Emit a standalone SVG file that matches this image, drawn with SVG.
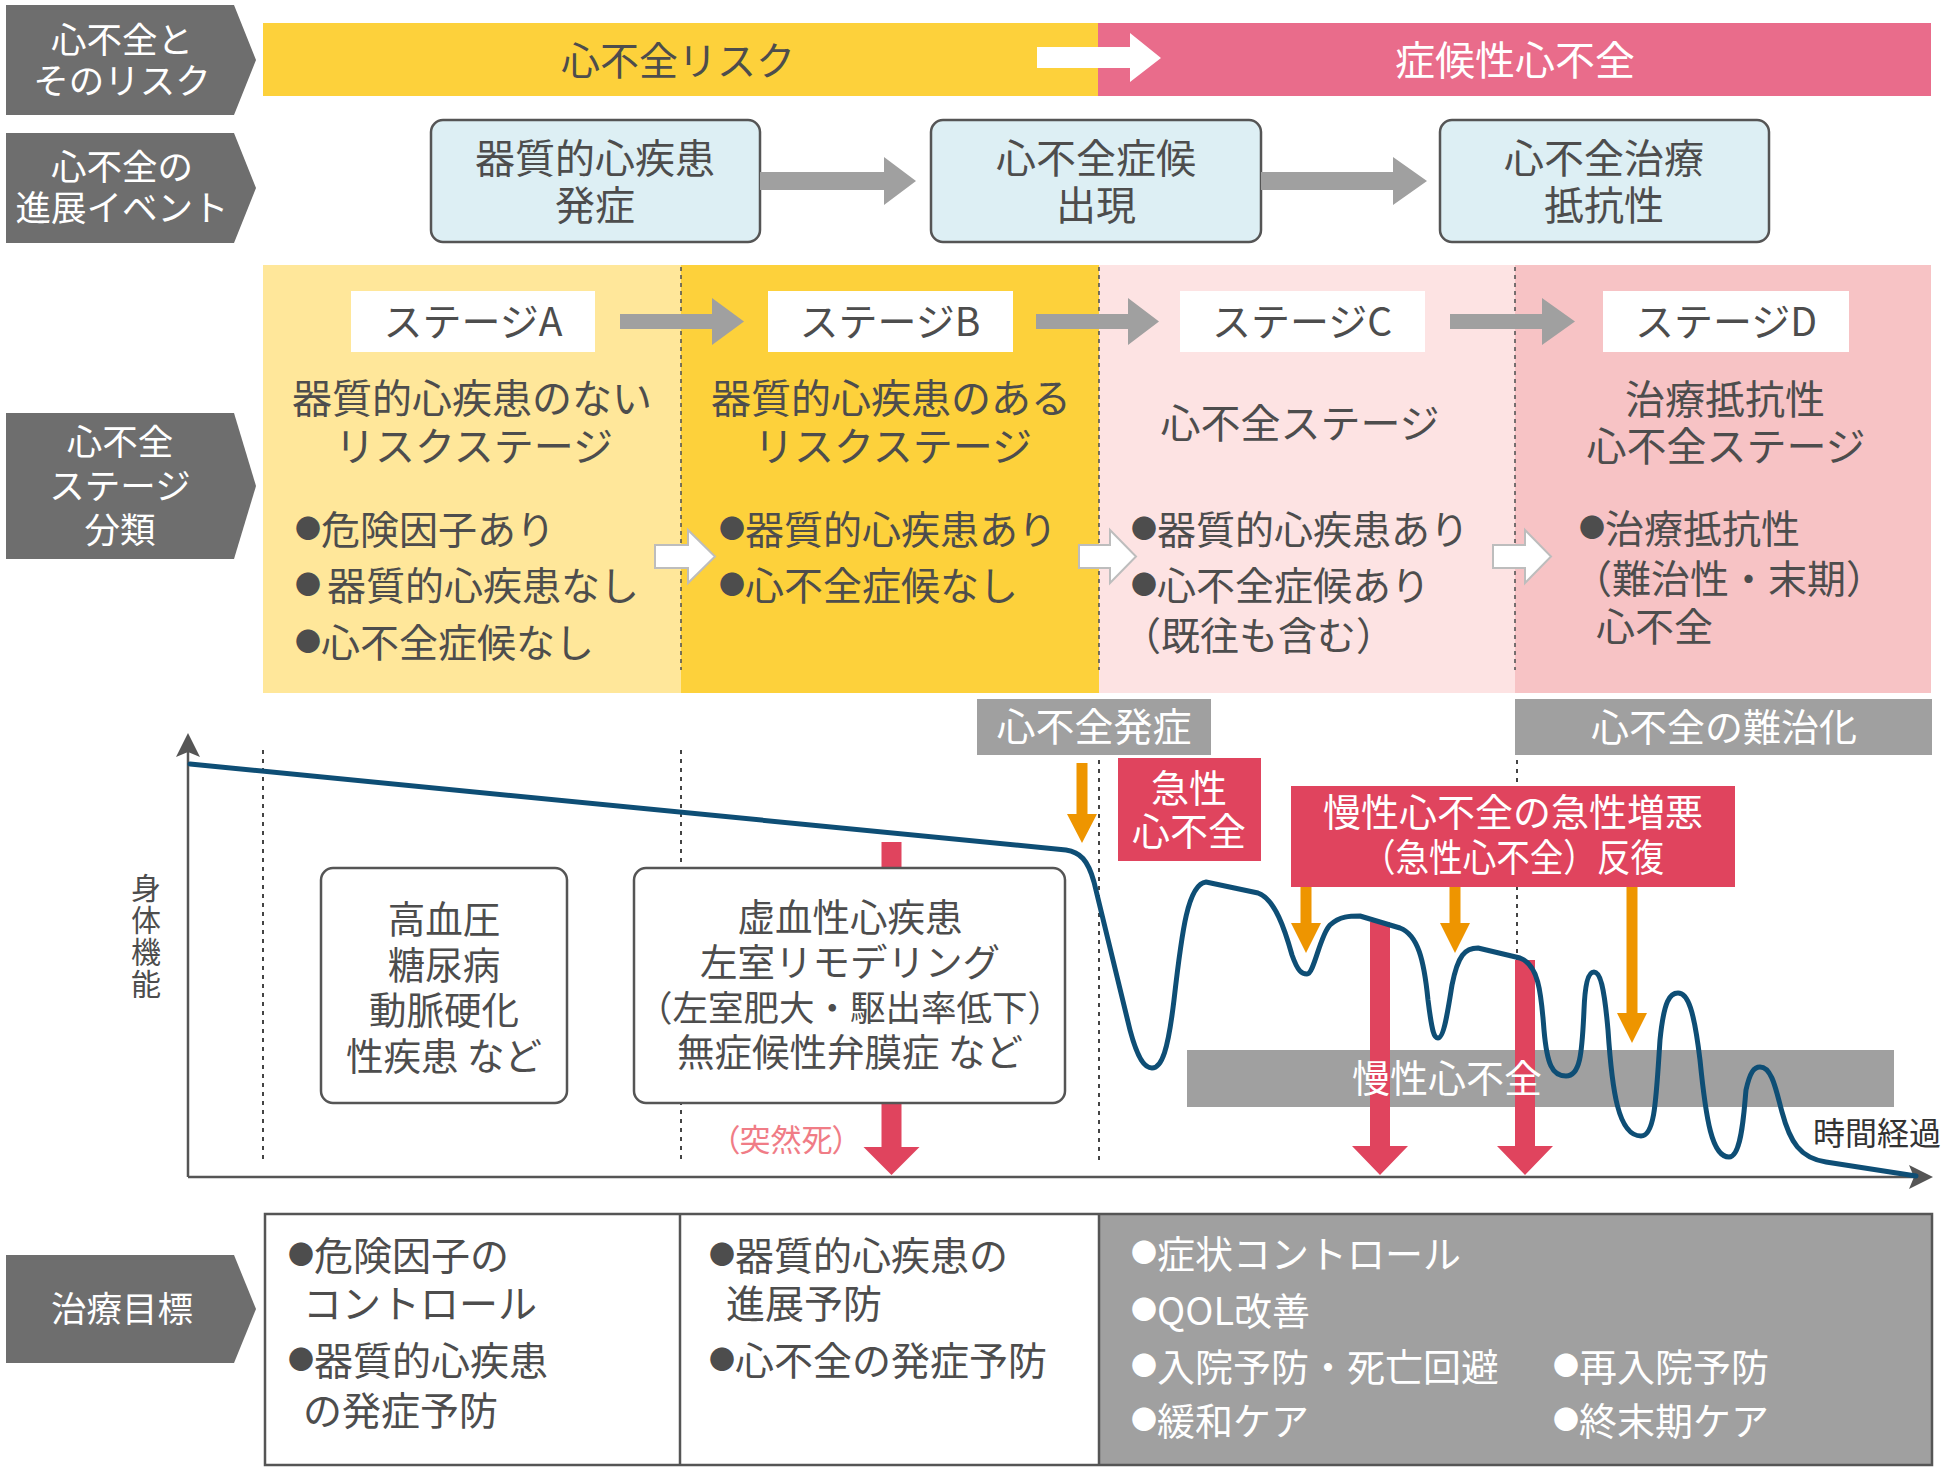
<svg xmlns="http://www.w3.org/2000/svg" width="1952" height="1472" viewBox="0 0 1952 1472">
<defs>
<style>
text{font-family:"Noto Sans CJK JP","Noto Sans",sans-serif;}
.lbl{fill:#6e6e6e;}
.lt{fill:#fff;font-size:35.5px;text-anchor:middle;}
.t{fill:#4d4d4d;font-size:38px;}
.s{font-size:39px;}
.e{font-size:40px;}
.g{font-size:37.5px;}
.c{text-anchor:middle;}
.w{fill:#fff;}
.b{font-size:26px;}
.stg{fill:#fff;}
.garrow{fill:#a0a0a0;}
.warrow{fill:#fff;stroke:#bdbdbd;stroke-width:2;}
.evbox{fill:#ddeff4;stroke:#555;stroke-width:2.5;}
.dot{stroke:#444;stroke-width:2;stroke-dasharray:4 5;fill:none;}
.dotp{stroke:#555;stroke-width:1.6;stroke-dasharray:4 4;fill:none;}
.gbox{fill:#a0a0a0;}
.red{fill:#e0445e;}
.org{fill:#ee9500;}
.wbox{fill:#fff;stroke:#555;stroke-width:2.5;}
.axis{stroke:#555;stroke-width:2.5;fill:none;}
</style>
</defs>
<rect width="1952" height="1472" fill="#fff"/>

<!-- Left labels -->
<g id="label-risk">
<polygon class="lbl" points="6,5 234,5 256,60 234,115 6,115"/>
<text class="lt"><tspan x="122" y="53">心不全と</tspan><tspan x="122" y="94">そのリスク</tspan></text>
</g>
<g id="label-event">
<polygon class="lbl" points="6,133 234,133 256,188 234,243 6,243"/>
<text class="lt"><tspan x="122" y="180">心不全の</tspan><tspan x="122" y="221">進展イベント</tspan></text>
</g>
<g id="label-stage">
<polygon class="lbl" points="6,413 234,413 256,486 234,559 6,559"/>
<text class="lt"><tspan x="120" y="455">心不全</tspan><tspan x="120" y="499">ステージ</tspan><tspan x="120" y="543">分類</tspan></text>
</g>
<g id="label-goal">
<polygon class="lbl" points="6,1255 234,1255 256,1309 234,1363 6,1363"/>
<text class="lt" x="122" y="1322">治療目標</text>
</g>

<!-- Row 1 bars -->
<g id="bar-risk">
<rect x="263" y="23" width="836" height="73" fill="#fdd13b"/>
<text class="t c" x="678" y="75" style="font-size:39px">心不全リスク</text>
</g>
<g id="bar-symptomatic">
<rect x="1098" y="23" width="833" height="73" fill="#e96c8b"/>
<text class="t c w" x="1515" y="75" style="font-size:40px">症候性心不全</text>
</g>

<!-- Row 2 events -->
<g id="event-1">
<rect class="evbox" x="431" y="120" width="329" height="122" rx="12"/>
<text class="t c e"><tspan x="595" y="173">器質的心疾患</tspan><tspan x="595" y="220">発症</tspan></text>
</g>
<g id="event-2">
<rect class="evbox" x="931" y="120" width="330" height="122" rx="12"/>
<text class="t c e"><tspan x="1096" y="173">心不全症候</tspan><tspan x="1096" y="220">出現</tspan></text>
</g>
<g id="event-3">
<rect class="evbox" x="1440" y="120" width="329" height="122" rx="12"/>
<text class="t c e"><tspan x="1604" y="173">心不全治療</tspan><tspan x="1604" y="220">抵抗性</tspan></text>
</g>

<!-- Row 3 stage panels -->
<g id="stage-A">
<rect x="263" y="265" width="418" height="428" fill="#ffe79a"/>
</g>
<g id="stage-B">
<rect x="681" y="265" width="418" height="428" fill="#fdd13b"/>
</g>
<g id="stage-C">
<rect x="1099" y="265" width="416" height="428" fill="#fde3e3"/>
</g>
<g id="stage-D">
<rect x="1515" y="265" width="416" height="428" fill="#f7c3c5"/>
</g>
<g id="panel-dividers">
<line class="dotp" x1="681" y1="267" x2="681" y2="670"/>
<line class="dotp" x1="1099" y1="267" x2="1099" y2="670"/>
<line class="dotp" x1="1515" y1="267" x2="1515" y2="670"/>
</g>
<g id="stage-A-text">
<rect class="stg" x="351" y="291" width="244" height="61"/>
<text class="t c s" x="473" y="336">ステージA</text>
<text class="t c e"><tspan x="472" y="413">器質的心疾患のない</tspan><tspan x="474" y="461">リスクステージ</tspan></text>
<text class="t s"><tspan x="295" y="538" class="b">●</tspan><tspan y="544">危険因子あり</tspan><tspan x="295" y="594" class="b">●</tspan><tspan y="600" dx="6">器質的心疾患なし</tspan><tspan x="295" y="651" class="b">●</tspan><tspan y="657">心不全症候なし</tspan></text>
</g>
<g id="stage-B-text">
<rect class="stg" x="768" y="291" width="245" height="61"/>
<text class="t c s" x="890" y="336">ステージB</text>
<text class="t c e"><tspan x="891" y="413">器質的心疾患のある</tspan><tspan x="893" y="461">リスクステージ</tspan></text>
<text class="t s"><tspan x="719" y="538" class="b">●</tspan><tspan y="544">器質的心疾患あり</tspan><tspan x="719" y="594" class="b">●</tspan><tspan y="600">心不全症候なし</tspan></text>
</g>
<g id="stage-C-text">
<rect class="stg" x="1180" y="291" width="245" height="61"/>
<text class="t c s" x="1302" y="336">ステージC</text>
<text class="t c e" x="1300" y="438">心不全ステージ</text>
<text class="t s"><tspan x="1131" y="538" class="b">●</tspan><tspan y="544">器質的心疾患あり</tspan><tspan x="1131" y="594" class="b">●</tspan><tspan y="600">心不全症候あり</tspan><tspan x="1122" y="650">（既往も含む）</tspan></text>
</g>
<g id="stage-D-text">
<rect class="stg" x="1603" y="291" width="246" height="61"/>
<text class="t c s" x="1726" y="336">ステージD</text>
<text class="t c e"><tspan x="1725" y="414">治療抵抗性</tspan><tspan x="1726" y="461">心不全ステージ</tspan></text>
<text class="t s"><tspan x="1579" y="537" class="b">●</tspan><tspan y="543">治療抵抗性</tspan><tspan x="1573" y="593">（難治性・末期）</tspan><tspan x="1596" y="641">心不全</tspan></text>
</g>

<!-- Graph labels -->
<g id="onset-label">
<rect class="gbox" x="977" y="699" width="234" height="56"/>
<text class="t c w s" x="1094" y="741">心不全発症</text>
</g>
<g id="refractory-label">
<rect class="gbox" x="1515" y="699" width="417" height="56"/>
<text class="t c w" x="1724" y="741">心不全の難治化</text>
</g>

<g id="graph-dividers">
<line class="dot" x1="263" y1="750" x2="263" y2="1163"/>
<line class="dot" x1="681" y1="750" x2="681" y2="1163"/>
<line class="dot" x1="1099" y1="760" x2="1099" y2="1163"/>
<line class="dot" x1="1517" y1="760" x2="1517" y2="1163"/>
</g>

<g id="axes">
<line class="axis" x1="188" y1="1177" x2="188" y2="750"/>
<polygon fill="#555" points="188,733 200,757 188,752 176,757"/>
<line class="axis" x1="188" y1="1177" x2="1916" y2="1177"/>
<polygon fill="#555" points="1933,1177 1909,1189 1914,1177 1909,1165"/>
<text x="146" y="873" writing-mode="vertical-rl" style="fill:#4d4d4d;font-size:30px;letter-spacing:2px">身体機能</text>
<text x="1813" y="1145" style="fill:#333;font-size:32px">時間経過</text>
</g>

<g id="chronic-bar">
<rect class="gbox" x="1187" y="1050" width="707" height="57"/>
</g>

<g id="connectors">
<polygon class="red" points="881.5,842 901.5,842 901.5,1147 919.5,1147 891.5,1175 863.5,1147 881.5,1147"/>
<polygon class="red" points="1370,922 1390,922 1390,1146 1408,1146 1380,1175 1352,1146 1370,1146"/>
<polygon class="red" points="1515,960 1535,960 1535,1146 1553,1146 1525,1175 1497,1146 1515,1146"/>
<polygon class="org" points="1076.5,763 1087.5,763 1087.5,814 1097,814 1082,843 1067,814 1076.5,814"/>
<polygon class="org" points="1300.5,887 1311.5,887 1311.5,923 1321,923 1306,953 1291,923 1300.5,923"/>
<polygon class="org" points="1449.5,887 1460.5,887 1460.5,923 1470,923 1455,953 1440,923 1449.5,923"/>
<polygon class="org" points="1626.5,887 1637.5,887 1637.5,1013 1647,1013 1632,1043 1617,1013 1626.5,1013"/>
<polygon fill="#fff" points="1037,47 1130,47 1130,33 1161,58 1130,82 1130,68 1037,68"/>
<polygon class="garrow" points="760,172 884,172 884,157 916,181 884,205 884,190 760,190"/>
<polygon class="garrow" points="1261,172 1393,172 1393,157 1427,181 1393,205 1393,190 1261,190"/>
<polygon class="garrow" points="620,314 712,314 712,298 744,321.5 712,345 712,329 620,329"/>
<polygon class="garrow" points="1036,314 1128,314 1128,298 1159,321.5 1128,345 1128,329 1036,329"/>
<polygon class="garrow" points="1450,314 1542,314 1542,298 1575,321.5 1542,345 1542,329 1450,329"/>
<polygon class="warrow" points="655,545 688,545 688,530 715,556.5 688,583 688,568 655,568"/>
<polygon class="warrow" points="1079,545 1110,545 1110,530 1136,556.5 1110,583 1110,568 1079,568"/>
<polygon class="warrow" points="1493,545 1525,545 1525,530 1551,556.5 1525,583 1525,568 1493,568"/>
</g>

<g id="chronic-label">
<text class="t c w" x="1447" y="1092">慢性心不全</text>
</g>

<g id="risk-box">
<rect class="wbox" x="321" y="868" width="246" height="235" rx="12"/>
<text class="t c g"><tspan x="444" y="933">高血圧</tspan><tspan x="444" y="979">糖尿病</tspan><tspan x="444" y="1024">動脈硬化</tspan><tspan x="444" y="1070">性疾患 など</tspan></text>
</g>
<g id="structural-box">
<rect class="wbox" x="634" y="868" width="431" height="235" rx="12"/>
<text class="t c g"><tspan x="850" y="931">虚血性心疾患</tspan><tspan x="850" y="976">左室リモデリング</tspan><tspan x="850" y="1021" style="font-size:35.5px">（左室肥大・駆出率低下）</tspan><tspan x="850" y="1066">無症候性弁膜症 など</tspan></text>
</g>
<g id="sudden-death">
<text x="786" y="1151" style="fill:#f07c86;font-size:31px;text-anchor:middle;font-feature-settings:'palt'">（突然死）</text>
</g>

<g id="acute-box">
<rect class="red" x="1118" y="758" width="143" height="103"/>
<text class="t c w"><tspan x="1189" y="802">急性</tspan><tspan x="1189" y="845">心不全</tspan></text>
</g>
<g id="exacerbation-box">
<rect class="red" x="1291" y="786" width="444" height="101"/>
<text class="t c w"><tspan x="1513" y="826">慢性心不全の急性増悪</tspan><tspan x="1513" y="871" textLength="302" lengthAdjust="spacingAndGlyphs">（急性心不全）反復</tspan></text>
</g>

<g id="curve">
<path d="M190,764 L1066,850 C1080,852 1088,860 1094,882 L1130,1030 C1138,1060 1145,1068 1152,1068 C1162,1068 1168,1050 1174,1000 C1182,930 1188,884 1206,882 L1258,893 C1275,899 1285,930 1292,955 C1298,972 1302,974 1307,974 C1314,974 1320,935 1330,925 C1340,916 1350,916 1360,916 L1400,928 C1418,935 1424,960 1428,1000 C1432,1032 1434,1038 1438,1038 C1444,1038 1448,1010 1452,985 C1458,955 1465,948 1478,948 L1520,958 C1538,965 1541,990 1544,1030 C1547,1064 1552,1076 1566,1076 C1580,1076 1582,1055 1584,1010 C1585,985 1588,972 1594,972 C1600,972 1604,985 1608,1030 C1612,1090 1618,1136 1641,1136 C1655,1136 1656,1100 1660,1040 C1664,1000 1670,993 1678,993 C1688,993 1694,1010 1700,1060 C1706,1120 1712,1157 1729,1157 C1742,1157 1744,1110 1746,1090 C1750,1072 1754,1067 1760,1067 C1772,1067 1776,1090 1782,1112 C1790,1142 1800,1158 1826,1162 L1916,1176" fill="none" stroke="#0e4e75" stroke-width="5" stroke-linejoin="round" stroke-linecap="round"/>
</g>

<!-- Treatment goals table -->
<g id="goal-table">
<rect x="1099" y="1214" width="833" height="251" fill="#a0a0a0"/>
<rect x="265" y="1214" width="1667" height="251" fill="none" stroke="#555" stroke-width="2.5"/>
<line x1="680" y1="1214" x2="680" y2="1465" stroke="#555" stroke-width="2.5"/>
<line x1="1099" y1="1214" x2="1099" y2="1465" stroke="#555" stroke-width="2.5"/>
</g>
<g id="goal-A">
<text class="t s"><tspan x="288" y="1264" class="b">●</tspan><tspan y="1270">危険因子の</tspan><tspan x="303" y="1318">コントロール</tspan><tspan x="288" y="1369" class="b">●</tspan><tspan y="1375">器質的心疾患</tspan><tspan x="303" y="1425">の発症予防</tspan></text>
</g>
<g id="goal-B">
<text class="t s"><tspan x="709" y="1264" class="b">●</tspan><tspan y="1270">器質的心疾患の</tspan><tspan x="726" y="1318">進展予防</tspan><tspan x="709" y="1369" class="b">●</tspan><tspan y="1375">心不全の発症予防</tspan></text>
</g>
<g id="goal-CD">
<text class="t w"><tspan x="1131" y="1262" class="b">●</tspan><tspan y="1268">症状コントロール</tspan><tspan x="1131" y="1319" class="b">●</tspan><tspan y="1325">QOL改善</tspan><tspan x="1131" y="1375" class="b">●</tspan><tspan y="1381">入院予防・死亡回避</tspan><tspan x="1131" y="1429" class="b">●</tspan><tspan y="1435">緩和ケア</tspan></text>
<text class="t w"><tspan x="1553" y="1375" class="b">●</tspan><tspan y="1381">再入院予防</tspan><tspan x="1553" y="1429" class="b">●</tspan><tspan y="1435">終末期ケア</tspan></text>
</g>
</svg>
